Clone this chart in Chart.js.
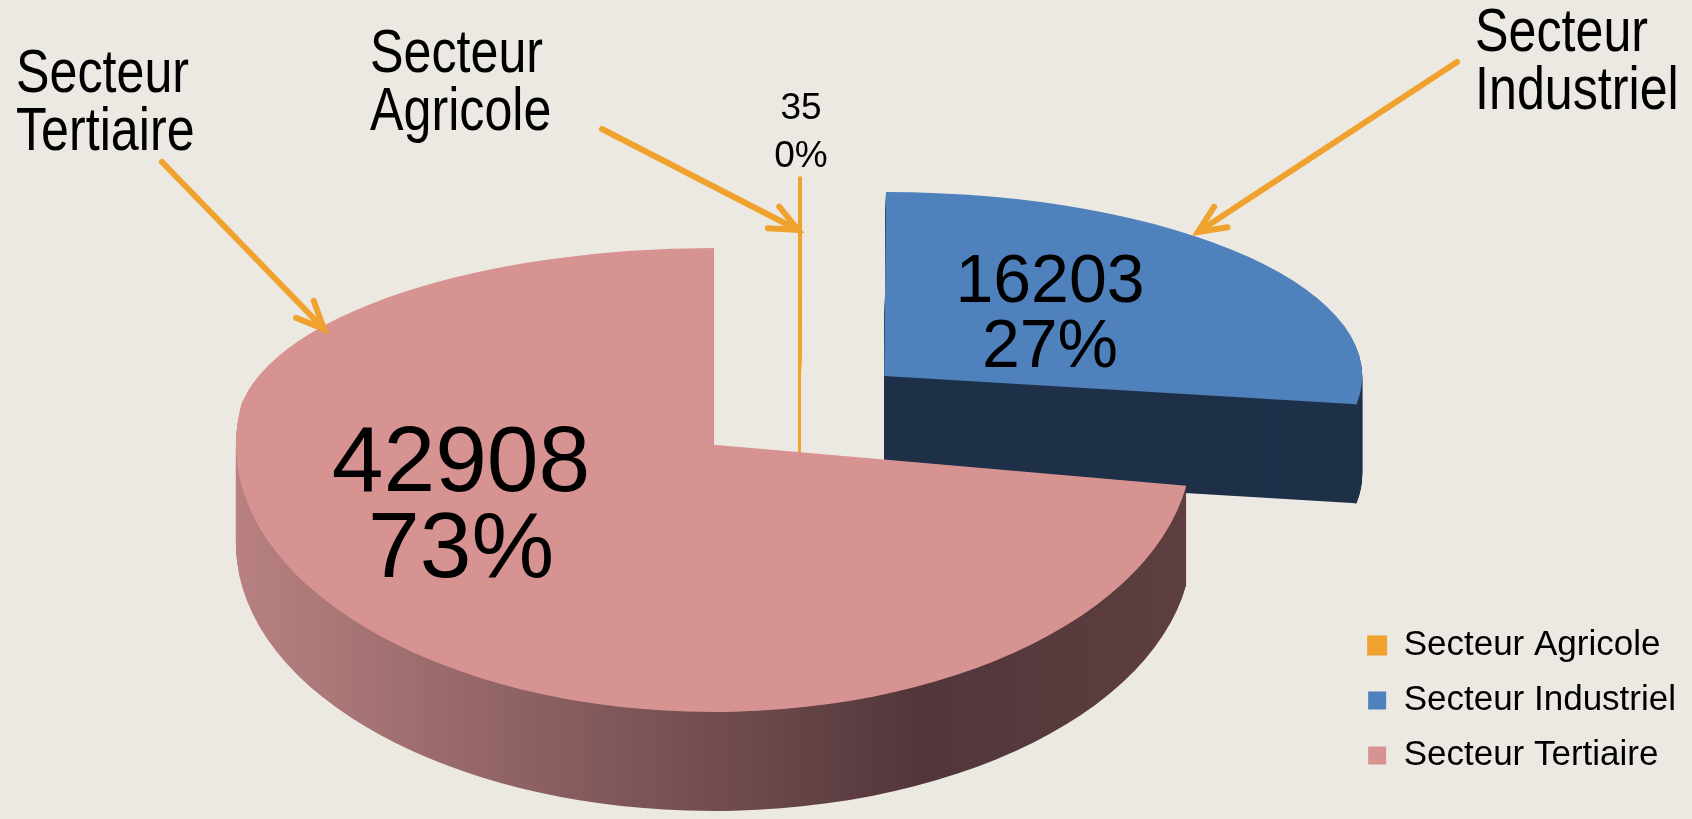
<!DOCTYPE html>
<html>
<head>
<meta charset="utf-8">
<title>Secteurs</title>
<script src="https://cdn.jsdelivr.net/npm/chart.js@4.4.1/dist/chart.umd.min.js"></script>
<style>
  html, body { margin: 0; padding: 0; background: #ECE9E2; }
  #wrap { width: 1692px; height: 819px; position: relative; }
</style>
</head>
<body>
<div id="wrap"><canvas id="pie"></canvas></div>
<script>
const sectors = ['Secteur Agricole', 'Secteur Industriel', 'Secteur Tertiaire'];
const employees = [35, 16203, 42908];
const sliceColors = ['#F0A22E', '#4F81BD', '#D79391'];
const sideColors = ['#F0A22E', '#1F3049', null]; // null = shaded gradient

// fake 3D look: back half squashed more than front half (cheap perspective)
const pieCenter = { x: 799, y: 404 };
const pieRadius = 478;
const squashBack = 0.385;
const squashFront = 0.559;
const depth = 99;
const explode = 112;

// callouts: name split on two lines + orange arrow
const calloutPos = [
  { x: 370, y: 72, arrow: [602, 129, 798, 230] },
  { x: 1475, y: 51, arrow: [1457, 62, 1198, 232] },
  { x: 16, y: 92, arrow: [162, 162, 324, 329] }
];
const valueLabelPos = [
  { x: 801, y: 119, size: 37, gap: 48 },
  { x: 1050, y: 302, size: 68, gap: 65 },
  { x: 461, y: 491, size: 93, gap: 86 }
];
const arrowColor = '#F0A22E';

function sideFill(ctx, arc, i) {
  if (sideColors[i]) return sideColors[i];
  const g = ctx.createLinearGradient(arc.x - pieRadius, 0, arc.x + pieRadius, 0);
  g.addColorStop(0, '#B98181');
  g.addColorStop(0.72, '#52363A');
  g.addColorStop(1, '#5E3F40');
  return g;
}

function drawArcAt(chart, arc, lift) {
  const ctx = chart.ctx;
  const mid = (arc.startAngle + arc.endAngle) / 2;
  const ox = Math.cos(mid) * explode;
  const oy = Math.sin(mid) * explode;
  const cut = pieCenter.y + lift;
  const parts = [[0, cut, squashBack], [cut, chart.height, squashFront]];
  parts.forEach(([y0, y1, s]) => {
    ctx.save();
    ctx.beginPath();
    ctx.rect(0, y0, chart.width, y1 - y0);
    ctx.clip();
    ctx.translate(pieCenter.x, cut);
    ctx.scale(1, s);
    ctx.translate(ox - arc.x, oy - arc.y);
    arc.draw(ctx);
    ctx.restore();
  });
}

const pie3d = {
  id: 'pie3d',
  beforeDatasetsDraw(chart) {
    const ctx = chart.ctx;
    const arcs = chart.getDatasetMeta(0).data;
    arcs.forEach((arc, i) => {
      const top = arc.options.backgroundColor;
      const topBorder = arc.options.borderColor;
      const side = sideFill(ctx, arc, i);
      arc.options.backgroundColor = side;
      arc.options.borderColor = side;
      for (let k = depth; k > 0; k--) {
        drawArcAt(chart, arc, k);
      }
      arc.options.backgroundColor = top;
      arc.options.borderColor = topBorder;
      drawArcAt(chart, arc, 0);
    });
    return false;
  },
  afterDraw(chart) {
    const ctx = chart.ctx;
    const total = employees.reduce((a, b) => a + b, 0);
    ctx.save();
    ctx.fillStyle = '#000';
    ctx.textBaseline = 'alphabetic';

    // values + percentages
    ctx.textAlign = 'center';
    employees.forEach((v, i) => {
      const p = valueLabelPos[i];
      ctx.font = p.size + 'px "Liberation Sans", Arial, sans-serif';
      ctx.fillText(String(v), p.x, p.y);
      ctx.fillText(Math.round(v / total * 100) + '%', p.x, p.y + p.gap);
    });

    // sector names (narrow look) with arrows
    ctx.textAlign = 'left';
    ctx.font = '62px "Liberation Sans", Arial, sans-serif';
    sectors.forEach((name, i) => {
      const c = calloutPos[i];
      name.split(' ').forEach((line, j) => {
        ctx.save();
        ctx.translate(c.x, c.y + j * 58);
        ctx.scale(0.81, 1);
        ctx.fillText(line, 0, 0);
        ctx.restore();
      });
      const [x1, y1, x2, y2] = c.arrow;
      const ang = Math.atan2(y2 - y1, x2 - x1);
      const head = 30, spread = 0.42;
      ctx.strokeStyle = arrowColor;
      ctx.lineWidth = 6;
      ctx.lineCap = 'round';
      ctx.lineJoin = 'miter';
      ctx.beginPath();
      ctx.moveTo(x1, y1);
      ctx.lineTo(x2, y2);
      ctx.stroke();
      ctx.beginPath();
      ctx.moveTo(x2 - head * Math.cos(ang - spread), y2 - head * Math.sin(ang - spread));
      ctx.lineTo(x2, y2);
      ctx.lineTo(x2 - head * Math.cos(ang + spread), y2 - head * Math.sin(ang + spread));
      ctx.stroke();
    });
    ctx.restore();
  }
};

new Chart(document.getElementById('pie'), {
  type: 'pie',
  data: {
    labels: sectors,
    datasets: [{
      data: employees,
      backgroundColor: sliceColors,
      borderColor: sliceColors,
      borderWidth: [2, 0, 0],
      radius: pieRadius
    }]
  },
  options: {
    responsive: true,
    maintainAspectRatio: false,
    animation: false,
    events: [],
    layout: { padding: { right: 6, bottom: 26 } },
    plugins: {
      tooltip: { enabled: false },
      legend: {
        position: 'right',
        align: 'end',
        labels: {
          color: '#000',
          font: { family: '"Liberation Sans", Arial, sans-serif', size: 35 },
          boxWidth: 18,
          boxHeight: 18,
          padding: 20
        }
      }
    }
  },
  plugins: [pie3d]
});
</script>
</body>
</html>
